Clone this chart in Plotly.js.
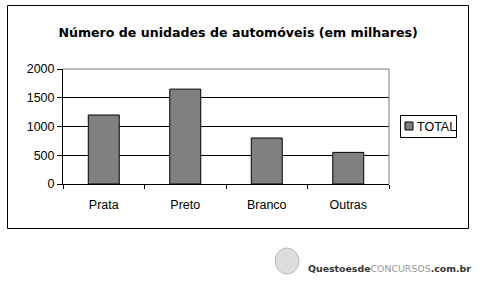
<!DOCTYPE html>
<html>
<head>
<meta charset="utf-8">
<script src="https://cdn.plot.ly/plotly-3.0.1.min.js"></script>
<style>html,body{margin:0;padding:0;background:#fff;}#chart{width:486px;height:292px;}</style>
</head>
<body>
<div id="chart"></div>
<script>
const categories = ["Prata", "Preto", "Branco", "Outras"];
const totalValues = [1200, 1650, 800, 550];
const seriesName = "TOTAL";
const yTickValues = [0, 500, 1000, 1500, 2000];
const chartTitle = "Número de unidades de automóveis (em milhares)";

const L = 63, R = 389, T = 69, B = 184, W = 486, H = 292;
const px = x => (x - L) / (R - L);
const py = y => (B - y) / (B - T);

const trace = {
  type: "bar",
  x: categories,
  y: totalValues,
  name: seriesName,
  marker: {color: "#808080", line: {color: "#000", width: 1}},
  showlegend: false
};

const layout = {
  width: W, height: H,
  margin: {l: L, r: W - R, t: T, b: H - B, pad: 0, autoexpand: false},
  paper_bgcolor: "#fff", plot_bgcolor: "#fff",
  font: {family: "Liberation Sans, Arial, sans-serif", size: 12, color: "#000"},
  bargap: 0.62,
  showlegend: false,
  title: {text: "<b>" + chartTitle + "</b>", x: 0.49, xanchor: "center", y: 1 - 33/H, yanchor: "middle",
          font: {family: "DejaVu Sans, Verdana, sans-serif", size: 12.6, color: "#000"}},
  xaxis: {type: "category", showline: true, linecolor: "#000", linewidth: 1,
          ticks: "outside", tickson: "boundaries", ticklen: 4, tickcolor: "#000",
          showgrid: false, zeroline: false, fixedrange: true, automargin: false,
          ticklabelstandoff: 9, tickfont: {size: 12.5}},
  yaxis: {range: [0, 2000], tickvals: yTickValues, showline: true, linecolor: "#000", linewidth: 1,
          ticks: "outside", ticklen: 5, tickcolor: "#000", showgrid: true, gridcolor: "#000", gridwidth: 1,
          zeroline: false, fixedrange: true, automargin: false, tickfont: {size: 12.5}},
  shapes: [
    {type: "line", xref: "paper", yref: "paper", x0: 0, x1: 1, y0: 1, y1: 1, line: {color: "#808080", width: 1}},
    {type: "line", xref: "paper", yref: "paper", x0: 1, x1: 1, y0: 0, y1: 1, line: {color: "#808080", width: 1}},
    {type: "rect", xref: "paper", yref: "paper", x0: px(7.5), x1: px(468.5), y0: py(5.5), y1: py(228.5),
     line: {color: "#000", width: 1}, fillcolor: "rgba(0,0,0,0)", layer: "below"},
    {type: "rect", xref: "paper", yref: "paper", x0: px(400.5), x1: px(456.5), y0: py(115.5), y1: py(137.5),
     line: {color: "#000", width: 1}, fillcolor: "#fff", layer: "above"},
    {type: "rect", xref: "paper", yref: "paper", x0: px(405), x1: px(413), y0: py(122), y1: py(130),
     line: {color: "#000", width: 1}, fillcolor: "#808080", layer: "above"},
    {type: "circle", xref: "paper", yref: "paper", x0: px(275), x1: px(299), y0: py(248), y1: py(274),
     line: {color: "#bbb", width: 1}, fillcolor: "#ddd", layer: "below"}
  ],
  annotations: [
    {xref: "paper", yref: "paper", x: px(415), y: py(126.5), xanchor: "left", yanchor: "middle", showarrow: false,
     text: seriesName, font: {size: 12.5, color: "#000"}},
    {xref: "paper", yref: "paper", x: px(306), y: py(268), xanchor: "left", yanchor: "middle", showarrow: false,
     text: "<b>Questoesde</b><span style='color:#999'>CONCURSOS</span><b>.com.br</b>",
     font: {family: "DejaVu Sans, Verdana, sans-serif", size: 9.4, color: "#333"}}
  ]
};

Plotly.newPlot("chart", [trace], layout, {displayModeBar: false, staticPlot: true});
</script>
</body>
</html>
